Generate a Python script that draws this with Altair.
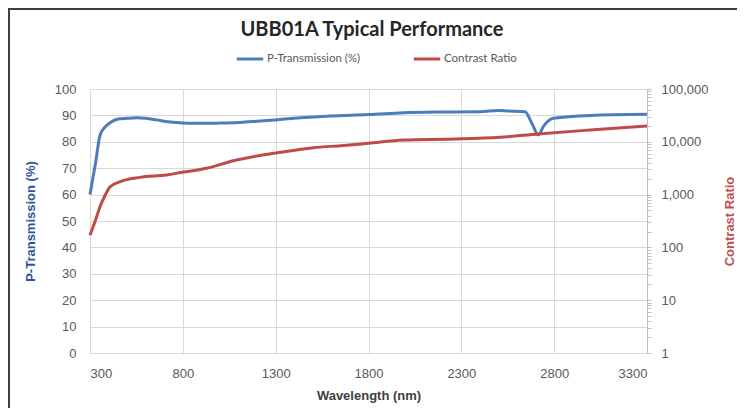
import altair as alt
import pandas as pd

# ---- data ----
trans_wl = [300, 330, 354, 380, 408, 452, 500, 551, 600, 659, 720, 785, 850, 928, 1000,
            1108, 1216, 1296, 1400, 1593, 1800, 1987, 2200, 2400, 2500, 2550, 2643,
            2680, 2715, 2741, 2795, 2993, 3300]
trans_val = [60, 72, 82.5, 85.5, 87.2, 88.6, 88.9, 89.1, 88.9, 88.3, 87.6, 87.2, 87.0, 87.0, 87.1,
             87.3, 87.9, 88.3, 88.9, 89.8, 90.3, 91.0, 91.3, 91.4, 91.9, 91.7, 91.4,
             87.0, 82.6, 85.7, 88.9, 90.0, 90.4]

cr_wl = [300, 330, 354, 380, 408, 462, 569, 713, 794, 928, 1072, 1216, 1296, 1503, 1665,
         1800, 1987, 2275, 2508, 2715, 2993, 3300]
cr_val = [170, 330, 590, 950, 1400, 1760, 2120, 2350, 2640, 3150, 4380, 5500, 6100, 7730, 8500,
          9380, 10800, 11300, 12200, 14100, 16700, 19900]

title_text = "UBB01A Typical Performance"
series_names = ["P-Transmission (%)", "Contrast Ratio"]
series_colors = ["#4A7EBB", "#BE4B48"]
x_ticks = [300, 800, 1300, 1800, 2300, 2800, 3300]
left_ticks = list(range(0, 101, 10))
right_ticks = [m * 10 ** e for e in range(0, 5) for m in range(1, 10)] + [100000]

FONT = "Lato"
W, H = 557, 264

df_t = pd.DataFrame({"wl": trans_wl, "T": trans_val, "series": series_names[0]})
df_c = pd.DataFrame({"wl": cr_wl, "C": cr_val, "series": series_names[1]})
one = pd.DataFrame({"a": [0]})

x_enc = alt.X("wl:Q", scale=alt.Scale(domain=[300, 3300], nice=False),
              axis=alt.Axis(values=x_ticks, format="d", title="Wavelength (nm)", grid=True,
                            gridColor="#D9D9D9", domain=False, ticks=False,
                            labelPadding=14, labelFontSize=13, labelColor="#595959",
                            titleFontSize=13, titleFontWeight="bold", titleColor="#404040",
                            titleX=W / 2, titleY=42, titleBaseline="middle"))

color_scale = alt.Scale(domain=series_names, range=series_colors)

blue = alt.Chart(df_t).mark_line(strokeWidth=3, interpolate="monotone").encode(
    x=x_enc,
    y=alt.Y("T:Q", scale=alt.Scale(domain=[0, 100], nice=False),
            axis=alt.Axis(values=left_ticks, title="P-Transmission (%)", grid=True,
                          gridColor="#D9D9D9", domain=False, ticks=False,
                          labelPadding=14, labelFontSize=13, labelColor="#595959",
                          titleFontSize=13, titleFontWeight="bold", titleColor="#2E5597",
                          titleAngle=270, titleX=-60, titleY=H / 2, titleBaseline="middle",
                          titleAlign="center")),
    color=alt.Color("series:N", scale=color_scale,
                    legend=alt.Legend(title=None, orient="none", direction="horizontal",
                                      legendX=145, legendY=-45, symbolType="stroke",
                                      symbolSize=700, symbolStrokeWidth=3,
                                      labelFontSize=11.5, labelColor="#595959",
                                      labelFont=FONT, columnPadding=46, padding=0,
                                      labelOffset=2)),
)

label_expr = ("datum.value == 1 || datum.value == 10 || datum.value == 100 || "
              "datum.value == 1000 || datum.value == 10000 || datum.value == 100000 "
              "? format(datum.value, ',') : ''")

red = alt.Chart(df_c).mark_line(strokeWidth=3, interpolate="monotone").encode(
    x=alt.X("wl:Q"),
    y=alt.Y("C:Q", scale=alt.Scale(type="log", domain=[1, 100000], nice=False),
            axis=alt.Axis(orient="right", values=right_ticks, labelExpr=label_expr,
                          labelOverlap=False, title="Contrast Ratio", grid=False,
                          domain=True, domainColor="#BFBFBF", ticks=True, tickSize=4,
                          tickColor="#BFBFBF", labelPadding=10, labelFontSize=13,
                          labelColor="#595959", titleFontSize=13, titleFontWeight="bold",
                          titleColor="#C0504D", titleAngle=270, titleX=82, titleY=H / 2,
                          titleBaseline="middle", titleAlign="center")),
    color=alt.Color("series:N", scale=color_scale),
)

title = alt.Chart(one).mark_text(
    text=title_text, font=FONT, fontSize=20, fontWeight="bold", color="#262626",
    align="center", baseline="middle"
).encode(x=alt.value(282), y=alt.value(-59))

border_left = alt.Chart(one).mark_rule(color="#404040", strokeWidth=2).encode(
    x=alt.value(-81), y=alt.value(-80), y2=alt.value(H + 56))
border_top = alt.Chart(one).mark_rule(color="#404040", strokeWidth=2).encode(
    x=alt.value(-82), x2=alt.value(W + 90), y=alt.value(-80))

chart = alt.layer(border_left, border_top, title, blue, red).resolve_scale(
    y="independent"
).properties(
    width=W, height=H,
    autosize=alt.AutoSizeParams(type="none"),
    padding={"left": 82, "top": 81, "right": 90, "bottom": 55},
).configure_view(stroke=None).configure_axis(
    labelFont=FONT, titleFont=FONT
).configure(background="white")

chart.save("out.html", embed_options={"renderer": "svg", "actions": False})
